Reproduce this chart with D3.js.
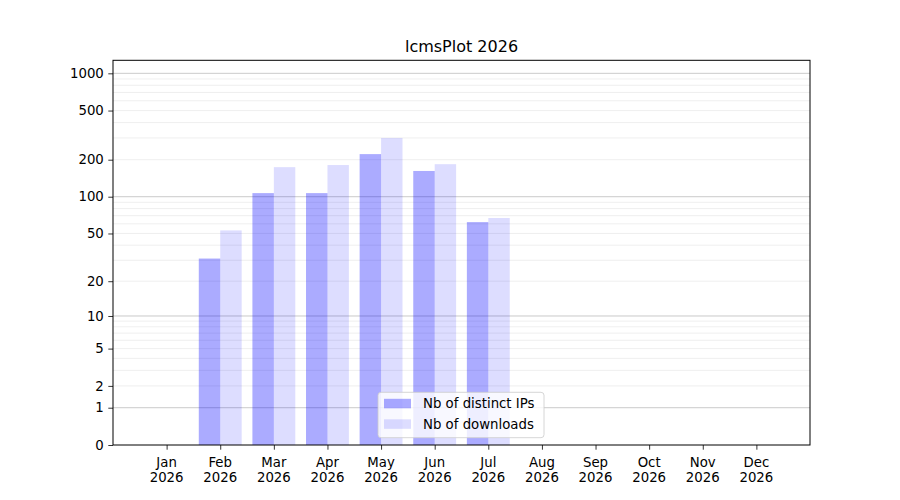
<!DOCTYPE html>
<html>
<head>
<meta charset="utf-8">
<script src="https://cdn.jsdelivr.net/npm/d3@7"></script>
<style>
    body { margin: 0; background: #fff; }
    text { font-family: "DejaVu Sans", sans-serif; fill: #000; }
</style>
</head>
<body>
<div id="chart"></div>
<script>

/***data***/
const months = ["Jan", "Feb", "Mar", "Apr", "May", "Jun", "Jul", "Aug", "Sep", "Oct", "Nov", "Dec"];
const year = "2026";
const distinctIPs = [0, 31, 107, 107, 222, 162, 62, 0, 0, 0, 0, 0];
const downloads = [0, 53, 174, 181, 300, 184, 67, 0, 0, 0, 0, 0];
const yTicks = [0, 1, 2, 5, 10, 20, 50, 100, 200, 500, 1000];
const majorGrid = [1, 10, 100, 1000];
const seriesNames = ["Nb of distinct IPs", "Nb of downloads"];

/***layout***/
const width = 900;
const height = 500;
const margin = {top: 60.3, right: 90, bottom: 55, left: 113};

let svg = d3.select("#chart")
    .append("svg")
    .attr("width", width)
    .attr("height", height);

let x = d3.scaleLinear().domain([-1, 12]).range([margin.left, width - margin.right]);
let y = d3.scaleSymlog().constant(1).domain([0, 1274]).range([height - margin.bottom, margin.top]);

// minor grid: 2..9 of each decade
let minorGrid = [];
[1, 10, 100].forEach(function (d) {
    for (let k = 2; k <= 9; k++) minorGrid.push(k * d);
});

let grid = svg.append("g");
grid.selectAll("line.minor")
    .data(minorGrid)
    .enter().append("line")
    .attr("x1", x(-1)).attr("x2", x(12))
    .attr("y1", d => y(d)).attr("y2", d => y(d))
    .attr("stroke", "#ebebeb")
    .attr("stroke-width", 0.8);
grid.selectAll("line.major")
    .data(majorGrid)
    .enter().append("line")
    .attr("x1", x(-1)).attr("x2", x(12))
    .attr("y1", d => y(d)).attr("y2", d => y(d))
    .attr("stroke", "#c4c4c4")
    .attr("stroke-width", 0.9);

/***bars***/
const barW = 0.4;
svg.append("g").selectAll("rect")
    .data(distinctIPs)
    .enter().append("rect")
    .attr("x", (d, i) => x(i - barW))
    .attr("width", (d, i) => x(i) - x(i - barW))
    .attr("y", d => y(d))
    .attr("height", d => y(0) - y(d))
    .attr("fill", "#0000ff")
    .attr("fill-opacity", 0.33);

svg.append("g").selectAll("rect")
    .data(downloads)
    .enter().append("rect")
    .attr("x", (d, i) => x(i))
    .attr("width", (d, i) => x(i + barW) - x(i))
    .attr("y", d => y(d))
    .attr("height", d => y(0) - y(d))
    .attr("fill", "#0000ff")
    .attr("fill-opacity", 0.135);

/***axes***/
let xAxis = svg.append("g")
    .attr("transform", "translate(0," + y(0) + ")")
    .call(d3.axisBottom(x).tickValues(d3.range(12)).tickSize(4.7).tickFormat(""));
xAxis.select(".domain").remove();
xAxis.selectAll("line").attr("stroke", "#000").attr("stroke-width", 0.8);

let xLabels = svg.append("g").selectAll("text")
    .data(months)
    .enter().append("text")
    .attr("x", (d, i) => x(i))
    .attr("y", y(0) + 21.5)
    .attr("text-anchor", "middle")
    .attr("font-size", "13.3px");
xLabels.append("tspan").attr("x", (d, i) => x(i)).text(d => d);
xLabels.append("tspan").attr("x", (d, i) => x(i)).attr("dy", 15.5).text(year);

let yAxis = svg.append("g")
    .attr("transform", "translate(" + margin.left + ",0)")
    .call(d3.axisLeft(y).tickValues(yTicks).tickSize(4.7).tickPadding(4.5).tickFormat(d3.format("d")));
yAxis.select(".domain").remove();
yAxis.selectAll("line").attr("stroke", "#000").attr("stroke-width", 0.8);
yAxis.selectAll("text")
    .attr("font-size", "13.3px")
    .attr("font-family", "DejaVu Sans, sans-serif")
    .attr("fill", "#000");

// frame
svg.append("rect")
    .attr("x", x(-1))
    .attr("y", y.range()[1])
    .attr("width", x(12) - x(-1))
    .attr("height", y(0) - y.range()[1])
    .attr("fill", "none")
    .attr("stroke", "#000")
    .attr("stroke-width", 1);

/***title***/
svg.append("text")
    .attr("x", (x(-1) + x(12)) / 2)
    .attr("y", 52)
    .attr("text-anchor", "middle")
    .attr("font-size", "16px")
    .text("lcmsPlot " + year);

/***legend***/
const legX = 378, legY = 392.3;
let legend = svg.append("g").attr("transform", "translate(" + legX + "," + legY + ")");
legend.append("rect")
    .attr("width", 166)
    .attr("height", 45.4)
    .attr("rx", 3)
    .attr("fill", "#fff")
    .attr("fill-opacity", 0.8)
    .attr("stroke", "#cccccc")
    .attr("stroke-width", 0.8);
const legOpacity = [0.33, 0.135];
seriesNames.forEach(function (name, i) {
    legend.append("rect")
        .attr("x", 6)
        .attr("y", 6.5 + i * 20.5)
        .attr("width", 27)
        .attr("height", 9.5)
        .attr("fill", "#0000ff")
        .attr("fill-opacity", legOpacity[i]);
    legend.append("text")
        .attr("x", 45)
        .attr("y", 16 + i * 20.5)
        .attr("font-size", "13.3px")
        .text(name);
});

</script>
</body>
</html>
